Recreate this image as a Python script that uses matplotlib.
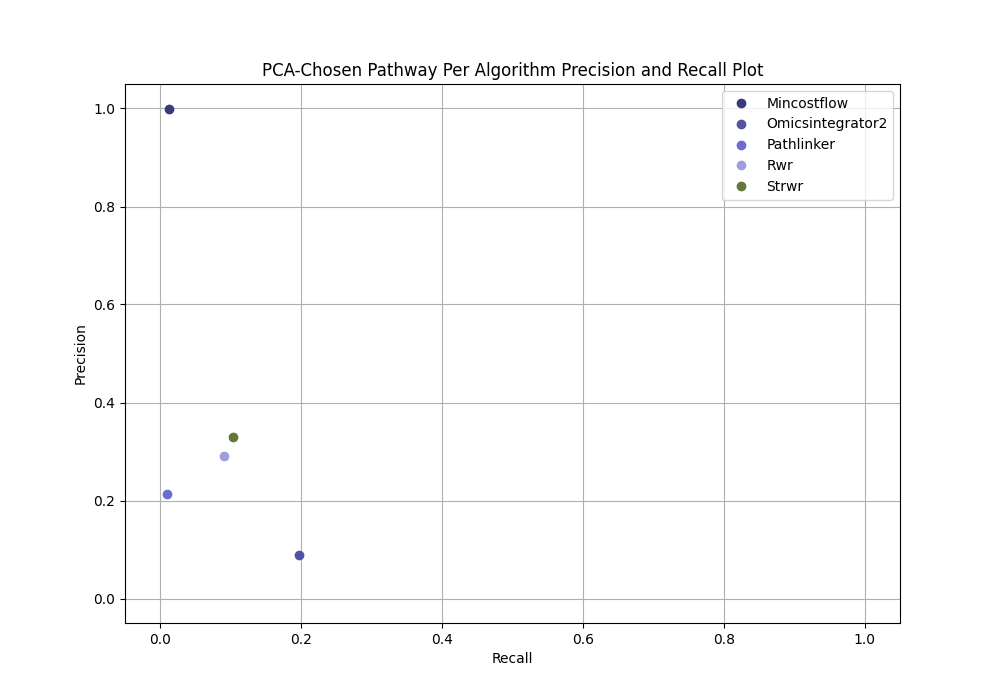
import matplotlib.pyplot as plt

algorithms = ["Mincostflow", "Omicsintegrator2", "Pathlinker", "Rwr", "Strwr"]
recall = [0.0127, 0.197, 0.0099, 0.0907, 0.1034]
precision = [1.0, 0.088, 0.213, 0.290, 0.329]

cmap = plt.get_cmap("tab20b")
colors = [cmap(i) for i in range(len(algorithms))]

fig, ax = plt.subplots(figsize=(10, 7))
for name, r, p, c in zip(algorithms, recall, precision, colors):
    ax.plot(r, p, "o", color=c, label=name)

ax.set_xlim(-0.05, 1.05)
ax.set_ylim(-0.05, 1.05)
ax.set_xlabel("Recall")
ax.set_ylabel("Precision")
ax.set_title("PCA-Chosen Pathway Per Algorithm Precision and Recall Plot")
ax.legend(loc="upper right")
ax.grid(True)

plt.savefig("out.png", dpi=100)
